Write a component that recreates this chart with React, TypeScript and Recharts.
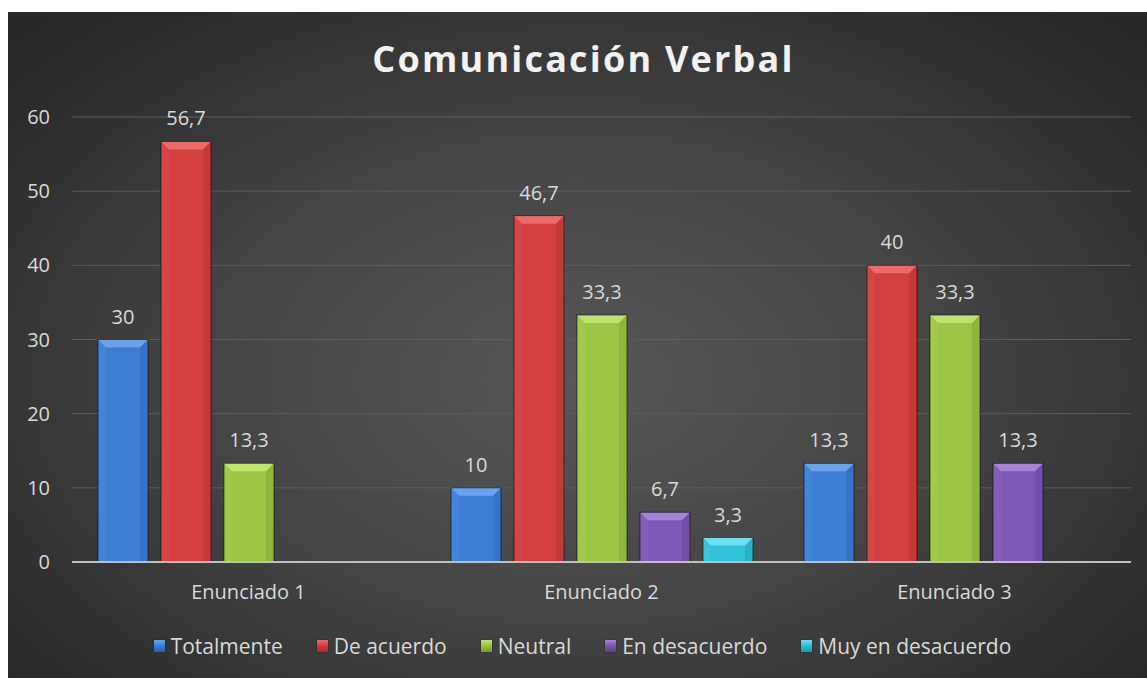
import {
  BarChart, Bar, XAxis, YAxis, CartesianGrid, Legend, LabelList
} from 'recharts';

const categories = ['Enunciado 1', 'Enunciado 2', 'Enunciado 3'];
const totalmente = [30, 10, 13.3];
const deAcuerdo = [56.7, 46.7, 40];
const neutral = [13.3, 33.3, 33.3];
const enDesacuerdo = [null, 6.7, 13.3];
const muyEnDesacuerdo = [null, 3.3, null];
const yTicks = [0, 10, 20, 30, 40, 50, 60];

const series = [
  { key: 'Totalmente', values: totalmente, color: '#3d7fd6', light: '#6aa3ec', dark: '#2a5fa8' },
  { key: 'De acuerdo', values: deAcuerdo, color: '#d43f3f', light: '#ec6a6a', dark: '#a82a2a' },
  { key: 'Neutral', values: neutral, color: '#9dc544', light: '#c2e26e', dark: '#78992f' },
  { key: 'En desacuerdo', values: enDesacuerdo, color: '#7e58b6', light: '#a584d8', dark: '#5d3f8a' },
  { key: 'Muy en desacuerdo', values: muyEnDesacuerdo, color: '#31c1d8', light: '#6fe0f0', dark: '#2295a8' },
];

const data = categories.map((name, i) => {
  const row: Record<string, string | number | null> = { name };
  series.forEach((s) => { row[s.key] = s.values[i]; });
  return row;
});

const FONT = '"Open Sans", "Noto Sans", sans-serif';
const TEXT = '#d9d9d9';

function makeBevel(color: string, light: string, dark: string) {
  return (props: any) => {
    const { x, y, width: w, height: h } = props;
    if (h == null || h <= 0) return <g />;
    const b = Math.min(8, h / 2, w / 2);
    return (
      <g>
        <rect x={x} y={y} width={w} height={h} fill={color} />
        <polygon points={`${x},${y} ${x + w},${y} ${x + w - b},${y + b} ${x + b},${y + b}`} fill={light} />
        <polygon points={`${x},${y} ${x + b},${y + b} ${x + b},${y + h} ${x},${y + h}`} fill={light} opacity={0.15} />
        <polygon points={`${x + w},${y} ${x + w - b},${y + b} ${x + w - b},${y + h} ${x + w},${y + h}`} fill={dark} opacity={0.35} />
        <rect x={x} y={y} width={w} height={h} fill="none" stroke="rgba(0,0,0,0.55)" strokeWidth={1} />
      </g>
    );
  };
}

function LegendContent() {
  return (
    <div style={{ display: 'flex', justifyContent: 'center', gap: 34, fontFamily: FONT, fontSize: 21, color: TEXT, paddingLeft: 26 }}>
      {series.map((s) => (
        <div key={s.key} style={{ display: 'flex', alignItems: 'center' }}>
          <span style={{
            display: 'inline-block', width: 11, height: 12, marginRight: 6,
            background: `linear-gradient(180deg, ${s.light} 0%, ${s.color} 45%, ${s.dark} 100%)`,
            boxShadow: '0 0 1px rgba(0,0,0,0.8)'
          }} />
          <span>{s.key}</span>
        </div>
      ))}
    </div>
  );
}

const fmt = (v: any) => (v == null ? '' : String(v).replace('.', ','));

export default function App() {
  return (
    <div>
      <style>{`body{margin:0;overflow:hidden}`}</style>
      <div style={{
        position: 'absolute', left: 8, top: 12, width: 1139, height: 666,
        background: 'radial-gradient(ellipse at 50% 55%, #575757 0%, #454545 45%, #2c2c2c 85%, #262626 100%)'
      }}>
        <div style={{
          position: 'absolute', left: 0, width: '100%', top: 22, textAlign: 'center', paddingLeft: 12,
          boxSizing: 'border-box',
          fontFamily: FONT, fontWeight: 700, fontSize: 36, letterSpacing: 2.2, color: '#f2f2f2'
        }}>
          Comunicación Verbal
        </div>
        <BarChart
          width={1139}
          height={666}
          data={data}
          margin={{ top: 105, right: 16, left: 0, bottom: 16 }}
          barGap={13}
          barSize={50}
          style={{ position: 'absolute', left: 0, top: 0 }}
        >
          <CartesianGrid vertical={false} stroke="#5c5c5c" strokeWidth={1} />
          <XAxis
            dataKey="name"
            height={70}
            axisLine={{ stroke: '#bfbfbf', strokeWidth: 2 }}
            tickLine={false}
            tickSize={0}
            tick={{ fill: TEXT, fontSize: 20, fontFamily: FONT, dy: 21 }}
          />
          <YAxis
            width={64}
            domain={[0, 60]}
            ticks={yTicks}
            axisLine={false}
            tickLine={false}
            tickSize={0}
            tickMargin={22}
            tick={{ fill: TEXT, fontSize: 20, fontFamily: FONT }}
          />
          <Legend verticalAlign="bottom" height={30} content={<LegendContent />} />
          {series.map((s) => (
            <Bar
              key={s.key}
              dataKey={s.key}
              fill={s.color}
              isAnimationActive={false}
              shape={makeBevel(s.color, s.light, s.dark)}
            >
              <LabelList
                dataKey={s.key}
                position="top"
                offset={16}
                formatter={fmt}
                style={{ fill: TEXT, fontSize: 20, fontFamily: FONT }}
              />
            </Bar>
          ))}
        </BarChart>
      </div>
    </div>
  );
}
